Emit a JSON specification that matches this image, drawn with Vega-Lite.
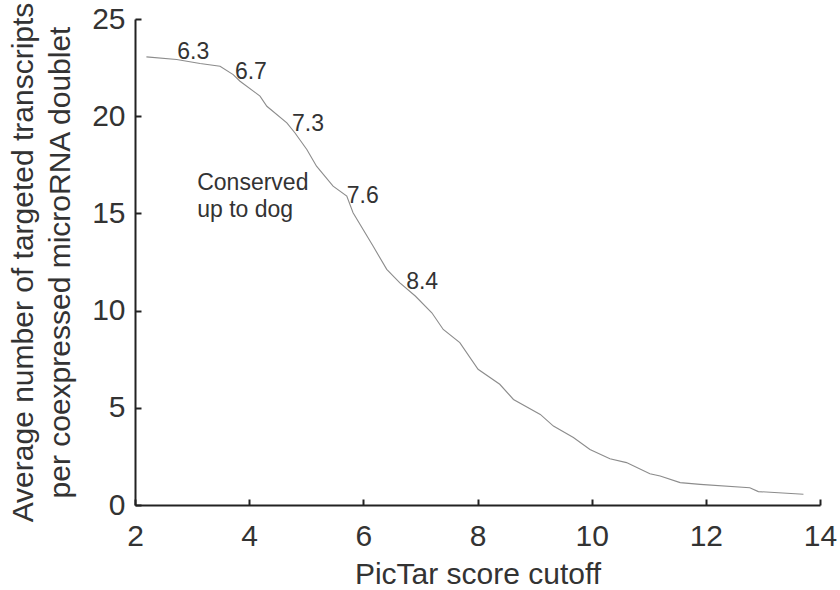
{
  "$schema": "https://vega.github.io/schema/vega-lite/v6.json",
  "width": 685,
  "height": 486,
  "autosize": {"type": "none"},
  "padding": {"left": 135, "top": 19, "right": 20, "bottom": 85},
  "background": "white",
  "config": {
    "view": {"stroke": null},
    "font": "Liberation Sans",
    "axis": {
      "grid": false,
      "labelFlush": false,
      "domainColor": "#222222",
      "domainWidth": 2,
      "tickColor": "#222222",
      "tickWidth": 2,
      "tickSize": -6,
      "labelFont": "Liberation Sans",
      "labelFontSize": 30,
      "labelColor": "#333333",
      "titleFont": "Liberation Sans",
      "titleFontSize": 30,
      "titleFontWeight": "normal",
      "titleColor": "#333333"
    }
  },
  "datasets": {
    "curve": [
      {"x": 2.2, "y": 23.05},
      {"x": 2.73, "y": 22.92},
      {"x": 3.14, "y": 22.71},
      {"x": 3.49, "y": 22.57},
      {"x": 3.72, "y": 22.14},
      {"x": 3.84, "y": 21.8},
      {"x": 4.19, "y": 21.03},
      {"x": 4.31, "y": 20.51},
      {"x": 4.66, "y": 19.66},
      {"x": 4.8, "y": 19.15},
      {"x": 5.01, "y": 18.29},
      {"x": 5.18, "y": 17.43},
      {"x": 5.47, "y": 16.4},
      {"x": 5.71, "y": 15.89},
      {"x": 5.82, "y": 15.03},
      {"x": 6.17, "y": 13.32},
      {"x": 6.41, "y": 12.12},
      {"x": 6.64, "y": 11.43},
      {"x": 6.91, "y": 10.75},
      {"x": 7.2, "y": 9.89},
      {"x": 7.4, "y": 9.03},
      {"x": 7.69, "y": 8.35},
      {"x": 8.01, "y": 6.98},
      {"x": 8.39, "y": 6.21},
      {"x": 8.63, "y": 5.43},
      {"x": 9.1, "y": 4.66},
      {"x": 9.33, "y": 4.06},
      {"x": 9.68, "y": 3.47},
      {"x": 9.97, "y": 2.86},
      {"x": 10.32, "y": 2.38},
      {"x": 10.61, "y": 2.18},
      {"x": 11.02, "y": 1.61},
      {"x": 11.2, "y": 1.49},
      {"x": 11.55, "y": 1.15},
      {"x": 11.9, "y": 1.06},
      {"x": 12.77, "y": 0.89},
      {"x": 12.92, "y": 0.69},
      {"x": 13.71, "y": 0.55}
    ],
    "labels": [
      {"x": 3.02, "y": 23.3, "text": "6.3"},
      {"x": 4.03, "y": 22.27, "text": "6.7"},
      {"x": 5.03, "y": 19.6, "text": "7.3"},
      {"x": 5.99, "y": 15.9, "text": "7.6"},
      {"x": 7.03, "y": 11.45, "text": "8.4"}
    ],
    "notes": [
      {"x": 3.09, "y": 16.57, "text": "Conserved"},
      {"x": 3.09, "y": 15.15, "text": "up to dog"}
    ]
  },
  "layer": [
    {
      "data": {"name": "curve"},
      "mark": {"type": "line", "color": "#8c8c8c", "strokeWidth": 1.1},
      "encoding": {
        "x": {
          "field": "x", "type": "quantitative",
          "scale": {"domain": [2, 14], "nice": false, "zero": false},
          "axis": {
            "values": [2, 4, 6, 8, 10, 12, 14],
            "format": "d",
            "title": "PicTar score cutoff",
            "labelPadding": 22,
            "titleBaseline": "alphabetic",
            "titleX": 342.5,
            "titleY": 78
          }
        },
        "y": {
          "field": "y", "type": "quantitative",
          "scale": {"domain": [0, 25], "nice": false},
          "axis": {
            "values": [0, 5, 10, 15, 20, 25],
            "format": "d",
            "title": ["Average number of targeted transcripts", "per coexpressed microRNA doublet"],
            "labelPadding": 16,
            "titleLineHeight": 37,
            "titleX": -97,
            "titleY": 243
          }
        }
      }
    },
    {
      "data": {"name": "labels"},
      "mark": {"type": "text", "fontSize": 23, "color": "#333333", "align": "center", "baseline": "middle"},
      "encoding": {
        "x": {"field": "x", "type": "quantitative"},
        "y": {"field": "y", "type": "quantitative"},
        "text": {"field": "text"}
      }
    },
    {
      "data": {"name": "notes"},
      "mark": {"type": "text", "fontSize": 23, "color": "#333333", "align": "left", "baseline": "middle"},
      "encoding": {
        "x": {"field": "x", "type": "quantitative"},
        "y": {"field": "y", "type": "quantitative"},
        "text": {"field": "text"}
      }
    }
  ]
}
